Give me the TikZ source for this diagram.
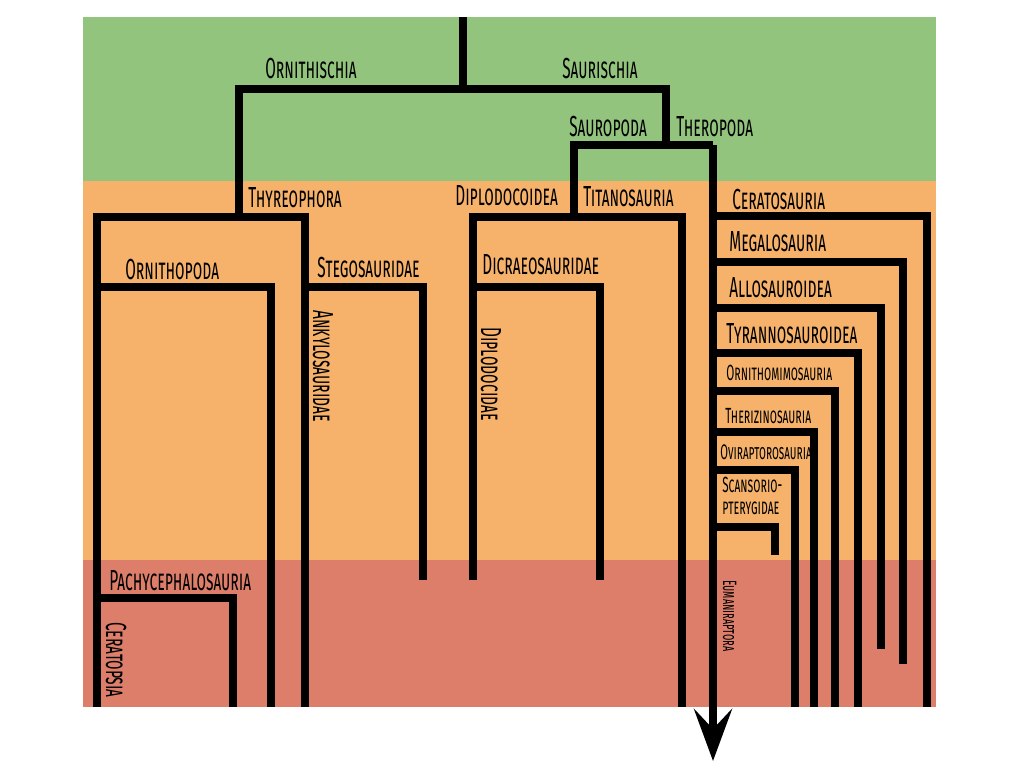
\documentclass[tikz,border=0pt]{standalone}
\usepackage{fontspec}
\newfontfamily\cladefont[FakeStretch=0.53,Letters=SmallCaps]{Fira Sans}
\usetikzlibrary{arrows.meta}
\definecolor{bandgreen}{HTML}{93C47D}
\definecolor{bandorange}{HTML}{F6B26B}
\definecolor{bandred}{HTML}{DD7E6B}

\begin{document}
\begin{tikzpicture}[x=0.02cm, y=-0.02cm,
  branch/.style={line width=4.5pt, line join=miter},
  clade/.style={font=\cladefont\fontsize{16.5}{18}\selectfont, inner sep=0pt, anchor=base west},
  smallclade/.style={clade, font=\cladefont\fontsize{12.5}{12}\selectfont},
  tinyclade/.style={clade, font=\cladefont\fontsize{11}{12}\selectfont}]

\useasboundingbox (0,0) rectangle (1024,768);

% Time bands
\fill[bandgreen] (83,17) rectangle (936,181);
\fill[bandorange] (83,181) rectangle (936,560);
\fill[bandred] (83,560) rectangle (936,707);

% Root and first split
\draw[branch] (463,17) -- (463,89);
\draw[branch] (239,217) -- (239,89) -- (666,89) -- (666,145);
\node[clade] (orni) at (265,78) {Ornithischia};
\node[clade] (sauri) at (562,78) {Saurischia};

% Ornithischia
\draw[branch] (97,707) -- (97,217) -- (305,217) -- (305,707);
\draw[branch] (97,287) -- (271,287) -- (271,707);
\draw[branch] (97,598) -- (233,598) -- (233,707);
\draw[branch] (305,287) -- (423,287) -- (423,580);
\node[clade] (thyreo) at (248,207) {Thyreophora};
\node[clade] (ornpod) at (125,279) {Ornithopoda};
\node[clade] (stego) at (317,277) {Stegosauridae};
\node[clade] (pachy) at (109,590) {Pachycephalosauria};
\node[clade, rotate=-90] (ankylo) at (313,310) {Ankylosauridae};
\node[clade, rotate=-90] (cerato) at (106,622) {Ceratopsia};

% Sauropoda
\draw[branch] (574,217) -- (574,145) -- (713,145);
\draw[branch] (473,580) -- (473,217) -- (682,217) -- (682,707);
\draw[branch] (473,287) -- (600,287) -- (600,580);
\node[clade] (sauro) at (569,136) {Sauropoda};
\node[clade] (diplo) at (455,205) {Diplodocoidea};
\node[clade] (titano) at (583,206) {Titanosauria};
\node[clade] (dicrae) at (482,274) {Dicraeosauridae};
\node[clade, rotate=-90] (diplodoc) at (481,327) {Diplodocidae};

% Theropoda
\draw[branch, -{Stealth[length=1.04cm, width=0.76cm, inset=0.4cm]}] (713,145) -- (713,761);
\foreach \y/\x/\e in {216/927/707, 262/903/664, 308/881/649, 353/858/707,
                      391/835/707, 432/814/707, 470/795/707, 527/775/555}
  \draw[branch] (713,\y) -- (\x,\y) -- (\x,\e);
\node[clade] (thero) at (676,136) {Theropoda};
\node[clade] (ceratos) at (732,209) {Ceratosauria};
\node[clade] (megalo) at (729,251) {Megalosauria};
\node[clade] (allo) at (729,297) {Allosauroidea};
\node[clade] (tyranno) at (726,343) {Tyrannosauroidea};
\node[smallclade] (ornmim) at (726,380) {Ornithomimosauria};
\node[smallclade] (theri) at (725,423) {Therizinosauria};
\node[smallclade, font=\cladefont\fontsize{12}{12}\selectfont] (ovi) at (720,459) {Oviraptorosauria};
\node[smallclade, align=left] (scans) at (722,514) {Scansorio-\\pterygidae};
\node[tinyclade, rotate=-90] (euman) at (723,580) {Eumaniraptora};

\end{tikzpicture}
\end{document}
